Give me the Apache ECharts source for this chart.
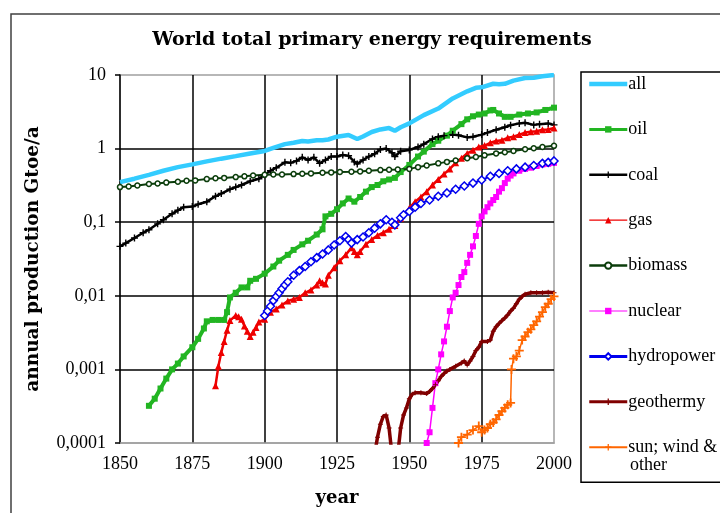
<!DOCTYPE html>
<html>
<head>
<meta charset="utf-8">
<script src="https://cdn.jsdelivr.net/npm/echarts@6/dist/echarts.min.js"></script>
<style>
html,body{margin:0;padding:0;background:#fff;}
#chart{width:720px;height:513px;}
</style>
</head>
<body>
<div id="chart"></div>
<script>
// ---- data (Gtoe/a) ----
const seriesNames = ['all', 'oil', 'coal', 'gas', 'biomass', 'nuclear', 'hydropower', 'geothermy', 'sun; wind & other'];
const xTicks = [1850, 1875, 1900, 1925, 1950, 1975, 2000];
const yTickLabels = ['0,0001', '0,001', '0,01', '0,1', '1', '10'];

const allData = [[1850,0.35],[1855,0.39],[1860,0.44],[1865,0.5],[1870,0.56],[1875,0.61],[1880,0.67],[1885,0.73],[1890,0.79],[1895,0.86],[1900,0.93],[1903,1.02],[1907,1.15],[1910,1.2],[1913,1.27],[1915,1.25],[1918,1.3],[1920,1.3],[1922,1.33],[1925,1.45],[1929,1.53],[1932,1.35],[1934,1.46],[1937,1.68],[1940,1.82],[1943,1.9],[1945,1.75],[1947,1.95],[1950,2.2],[1955,2.85],[1960,3.5],[1965,4.8],[1970,6.0],[1973,6.7],[1975,6.8],[1979,7.6],[1981,7.5],[1983,7.6],[1986,8.4],[1990,9.1],[1993,9.2],[1996,9.6],[2000,10.0]];

const oilData = [[1860,0.00032],[1862,0.0004],[1864,0.00055],[1866,0.00075],[1868,0.001],[1870,0.0012],[1872,0.0015],[1875,0.002],[1877,0.0026],[1879,0.0036],[1880,0.0045],[1882,0.0047],[1884,0.0047],[1886,0.0047],[1887,0.006],[1888,0.0095],[1890,0.011],[1892,0.013],[1894,0.013],[1895,0.016],[1897,0.017],[1900,0.02],[1903,0.025],[1905,0.03],[1908,0.036],[1910,0.042],[1913,0.05],[1915,0.056],[1918,0.068],[1920,0.08],[1921,0.12],[1923,0.13],[1925,0.15],[1927,0.18],[1929,0.21],[1931,0.19],[1933,0.22],[1935,0.26],[1937,0.3],[1939,0.32],[1941,0.36],[1943,0.38],[1945,0.4],[1947,0.48],[1950,0.6],[1953,0.78],[1955,0.91],[1958,1.15],[1960,1.28],[1963,1.5],[1965,1.75],[1968,2.15],[1970,2.5],[1972,2.75],[1974,2.9],[1976,3.0],[1978,3.3],[1979,3.35],[1981,3.0],[1983,2.7],[1985,2.7],[1988,2.9],[1991,3.0],[1994,3.1],[1997,3.35],[2000,3.6]];

const coalData = [[1850,0.047],[1852,0.052],[1855,0.061],[1858,0.072],[1860,0.079],[1863,0.095],[1865,0.108],[1868,0.13],[1870,0.145],[1872,0.16],[1875,0.163],[1877,0.175],[1880,0.19],[1883,0.225],[1885,0.245],[1888,0.28],[1890,0.3],[1892,0.32],[1895,0.36],[1898,0.39],[1900,0.44],[1902,0.5],[1904,0.55],[1907,0.65],[1909,0.64],[1911,0.68],[1913,0.76],[1915,0.7],[1917,0.76],[1919,0.63],[1921,0.7],[1923,0.78],[1925,0.78],[1927,0.82],[1929,0.8],[1931,0.66],[1932,0.62],[1934,0.7],[1936,0.78],[1938,0.85],[1940,0.97],[1942,1.0],[1944,0.88],[1945,0.78],[1947,0.92],[1950,0.96],[1953,1.05],[1955,1.15],[1958,1.35],[1960,1.45],[1962,1.5],[1965,1.55],[1967,1.52],[1970,1.42],[1972,1.45],[1975,1.55],[1977,1.65],[1980,1.8],[1983,1.95],[1985,2.08],[1988,2.2],[1990,2.25],[1993,2.1],[1995,2.15],[1998,2.2],[2000,2.1]];

const gasData = [[1883,0.0006],[1884,0.0011],[1885,0.0017],[1886,0.0024],[1887,0.0034],[1888,0.0046],[1890,0.0054],[1891,0.0052],[1892,0.0048],[1893,0.0039],[1894,0.0033],[1895,0.0028],[1896,0.0032],[1897,0.0037],[1898,0.0044],[1900,0.0048],[1902,0.006],[1904,0.0066],[1906,0.0075],[1908,0.0085],[1910,0.009],[1912,0.0095],[1914,0.011],[1916,0.012],[1918,0.014],[1919,0.016],[1920,0.015],[1921,0.0145],[1922,0.019],[1924,0.024],[1926,0.03],[1928,0.036],[1930,0.045],[1931,0.04],[1932,0.036],[1933,0.04],[1935,0.05],[1937,0.058],[1939,0.066],[1941,0.072],[1943,0.08],[1945,0.09],[1947,0.113],[1950,0.155],[1952,0.19],[1954,0.22],[1956,0.26],[1958,0.32],[1960,0.38],[1962,0.45],[1964,0.53],[1966,0.64],[1968,0.74],[1970,0.86],[1972,0.95],[1974,1.05],[1976,1.1],[1978,1.2],[1980,1.27],[1982,1.3],[1984,1.4],[1986,1.45],[1988,1.55],[1990,1.65],[1992,1.7],[1994,1.72],[1996,1.8],[1998,1.82],[2000,1.9]];

const biomassData = [[1850,0.3],[1853,0.305],[1856,0.315],[1860,0.33],[1863,0.335],[1866,0.345],[1870,0.355],[1873,0.365],[1876,0.37],[1880,0.385],[1883,0.395],[1886,0.4],[1890,0.41],[1893,0.42],[1896,0.43],[1900,0.44],[1903,0.445],[1906,0.445],[1910,0.45],[1913,0.455],[1916,0.46],[1920,0.47],[1923,0.475],[1926,0.48],[1930,0.485],[1933,0.49],[1936,0.5],[1940,0.51],[1943,0.515],[1946,0.52],[1950,0.53],[1953,0.56],[1956,0.59],[1960,0.63],[1963,0.66],[1966,0.69],[1970,0.74],[1973,0.77],[1976,0.81],[1980,0.86],[1983,0.89],[1986,0.93],[1990,0.98],[1993,1.01],[1996,1.05],[2000,1.09]];

const nuclearData = [[1956,0.0001],[1957,0.00014],[1958,0.0003],[1959,0.00065],[1960,0.001],[1961,0.0016],[1962,0.0024],[1963,0.0038],[1964,0.0062],[1965,0.0095],[1966,0.011],[1967,0.014],[1968,0.018],[1969,0.021],[1970,0.028],[1971,0.036],[1972,0.047],[1973,0.065],[1974,0.095],[1975,0.12],[1976,0.14],[1977,0.16],[1978,0.18],[1979,0.2],[1980,0.22],[1981,0.26],[1982,0.29],[1983,0.34],[1984,0.39],[1985,0.43],[1986,0.46],[1988,0.5],[1990,0.53],[1992,0.55],[1994,0.58],[1996,0.61],[1998,0.62],[2000,0.64]];

const hydroData = [[1900,0.0054],[1901,0.0062],[1902,0.0072],[1903,0.0086],[1904,0.0098],[1905,0.011],[1906,0.0125],[1907,0.014],[1908,0.0155],[1910,0.019],[1912,0.022],[1914,0.025],[1916,0.029],[1918,0.033],[1920,0.037],[1922,0.042],[1924,0.049],[1926,0.056],[1928,0.064],[1929,0.058],[1930,0.052],[1932,0.058],[1934,0.063],[1936,0.072],[1938,0.083],[1940,0.095],[1942,0.108],[1944,0.1],[1945,0.092],[1947,0.115],[1948,0.126],[1950,0.14],[1952,0.16],[1954,0.18],[1957,0.2],[1960,0.225],[1963,0.25],[1966,0.28],[1969,0.31],[1972,0.34],[1975,0.375],[1978,0.42],[1981,0.46],[1984,0.5],[1987,0.53],[1990,0.56],[1993,0.59],[1996,0.63],[1998,0.65],[2000,0.68]];

const geoData = [[1938,0.00007],[1939,0.00012],[1940,0.00018],[1941,0.00023],[1942,0.00024],[1943,0.00016],[1944,0.00007],[1946,0.00007],[1947,0.00016],[1948,0.00024],[1949,0.0003],[1950,0.0004],[1951,0.00046],[1952,0.00048],[1954,0.00048],[1956,0.00047],[1957,0.0005],[1958,0.00055],[1959,0.00062],[1960,0.0007],[1961,0.0008],[1962,0.00088],[1963,0.00095],[1964,0.001],[1966,0.0011],[1968,0.00122],[1969,0.0013],[1970,0.00115],[1971,0.0013],[1972,0.0015],[1973,0.0018],[1974,0.002],[1975,0.0024],[1977,0.0024],[1978,0.0025],[1979,0.0033],[1980,0.0038],[1981,0.0042],[1982,0.0046],[1983,0.005],[1984,0.0055],[1985,0.0062],[1986,0.0068],[1987,0.0078],[1988,0.009],[1989,0.0098],[1990,0.0105],[1992,0.011],[1994,0.011],[1996,0.011],[1998,0.0112],[2000,0.011]];

const sunData = [[1967,0.0001],[1968,0.00012],[1970,0.00013],[1972,0.00015],[1974,0.00017],[1975,0.00014],[1976,0.00015],[1977,0.00016],[1978,0.00018],[1979,0.00019],[1980,0.00021],[1981,0.00024],[1982,0.00027],[1983,0.0003],[1984,0.00033],[1985,0.00035],[1985.3,0.001],[1986,0.0014],[1987,0.0015],[1988,0.0018],[1989,0.0025],[1990,0.0028],[1991,0.0032],[1992,0.0035],[1993,0.004],[1994,0.0045],[1995,0.0052],[1996,0.006],[1997,0.007],[1998,0.0078],[1999,0.009],[2000,0.0098]];

// ---- styling ----
const PLUS = 'path://M4,0H6V4H10V6H6V10H4V6H0V4H4Z';
const seriesData = [allData, oilData, coalData, gasData, biomassData, nuclearData, hydroData, geoData, sunData];
const styles = [
  {color:'#33CCFF', width:4.5, legendWidth:4.5, symbol:'circle', size:0, hide:true},
  {color:'#22B522', width:4, legendWidth:3, symbol:'rect', size:6},
  {color:'#000000', width:2.5, legendWidth:2.5, symbol:PLUS, size:7},
  {color:'#EE0000', width:2.5, legendWidth:1.2, symbol:'triangle', size:7},
  {color:'#0B3D0B', width:2, legendWidth:2.5, symbol:'circle', size:5, fill:'#ffffff'},
  {color:'#FF00FF', width:1.5, legendWidth:1.2, symbol:'rect', size:6},
  {color:'#0000EE', width:2, legendWidth:3, symbol:'diamond', size:8, fill:'#ffffff'},
  {color:'#800000', width:3.5, legendWidth:3, symbol:PLUS, size:5},
  {color:'#FF6600', width:1.5, legendWidth:2, symbol:PLUS, size:9}
];

const series = seriesNames.map((name, i) => {
  const s = styles[i];
  return {
    name: name,
    type: 'line',
    data: seriesData[i],
    symbol: s.symbol,
    symbolSize: s.size,
    showSymbol: !s.hide,
    clip: true,
    animation: false,
    lineStyle: {color: s.color, width: s.width},
    itemStyle: s.fill ? {color: s.fill, borderColor: s.color, borderWidth: 1.5} : {color: s.color, borderWidth: 0}
  };
});

const legendItems = seriesNames.map((n, i) => {
  const item = {name: n, lineStyle: {width: styles[i].legendWidth, color: styles[i].color}};
  if (styles[i].hide) item.itemStyle = {opacity: 0};
  return item;
});

const chart = echarts.init(document.getElementById('chart'), null, {renderer: 'canvas'});
chart.setOption({
  animation: false,
  backgroundColor: '#ffffff',
  title: {
    text: 'World total primary energy requirements',
    left: 367, top: 26, textAlign: 'center',
    textStyle: {fontFamily: 'DejaVu Serif', fontWeight: 'bold', fontSize: 19, color: '#000'}
  },
  grid: {left: 120, top: 75, right: 166, bottom: 70, show: true, borderColor: '#a0a0a0', borderWidth: 1.5, backgroundColor: 'transparent'},
  legend: {
    orient: 'vertical',
    left: 581, top: 72,
    padding: [3, 40, 26, 6],
    itemGap: 27.4,
    itemWidth: 38, itemHeight: 8,
    borderColor: '#000', borderWidth: 1.5,
    data: legendItems,
    formatter: n => n === 'sun; wind & other' ? 'sun; wind &' : n,
    textStyle: {fontFamily: 'Liberation Serif', fontSize: 18, lineHeight: 18, color: '#000', padding: [0, 0, 0, -4]}
  },
  graphic: [
    {type: 'rect', shape: {x: 11, y: 14, width: 760, height: 560}, style: {fill: 'none', stroke: '#404040', lineWidth: 1.5}, silent: true, z: -1},
    {type: 'text', left: 630, top: 456, style: {text: 'other', font: '18px "Liberation Serif"', fill: '#000'}}
  ],
  xAxis: {
    type: 'value', min: 1850, max: 2000, interval: 25,
    name: 'year', nameLocation: 'middle', nameGap: 46,
    nameTextStyle: {fontFamily: 'DejaVu Serif', fontWeight: 'bold', fontSize: 18, color: '#000'},
    axisLine: {show: true, onZero: false, lineStyle: {color: '#a0a0a0', width: 1.5}},
    axisTick: {show: false},
    axisLabel: {margin: 12, fontFamily: 'Liberation Serif', fontSize: 18, color: '#000', formatter: v => String(v)},
    splitLine: {show: true, showMinLine: false, showMaxLine: false, lineStyle: {color: '#000', width: 1.5}}
  },
  yAxis: {
    type: 'log', logBase: 10, min: 0.0001, max: 10,
    name: 'annual production Gtoe/a', nameLocation: 'middle', nameGap: 77,
    nameTextStyle: {fontFamily: 'DejaVu Serif', fontWeight: 'bold', fontSize: 18.5, color: '#000'},
    axisLine: {show: true, lineStyle: {color: '#000', width: 1.5}},
    axisTick: {show: true, inside: false, length: 5, lineStyle: {color: '#000', width: 1.5}},
    axisLabel: {margin: 14, fontFamily: 'Liberation Serif', fontSize: 18, color: '#000',
      formatter: v => yTickLabels[Math.round(Math.log10(v)) + 4]},
    splitLine: {show: true, showMinLine: false, showMaxLine: false, lineStyle: {color: '#000', width: 1.5}}
  },
  series: series
});
</script>
</body>
</html>
